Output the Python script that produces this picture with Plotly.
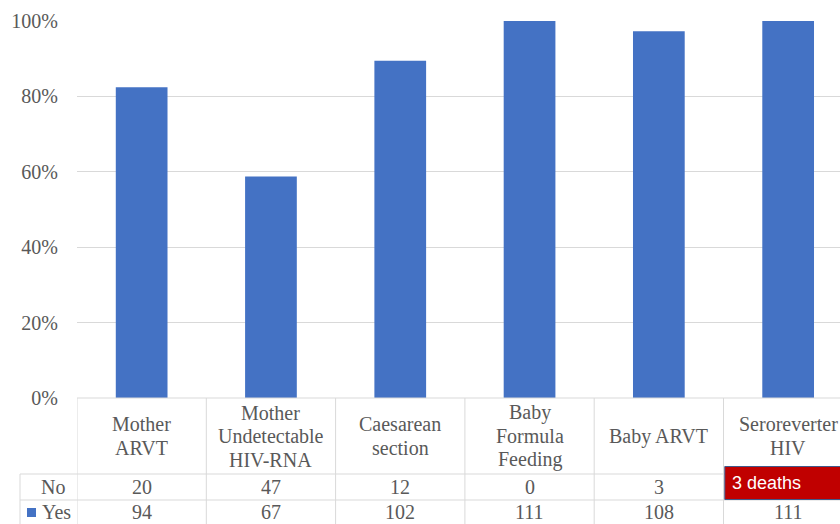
import plotly.graph_objects as go

# Outcome categories and counts per category
categories = ["Mother<br>ARVT", "Mother<br>Undetectable<br>HIV-RNA", "Caesarean<br>section",
              "Baby<br>Formula<br>Feeding", "Baby ARVT", "Seroreverter<br>HIV"]
yes_counts = [94, 67, 102, 111, 108, 111]
no_counts = [20, 47, 12, 0, 3, 0]
no_notes = [None, None, None, None, None, "3 deaths"]
y_ticks = [0, 20, 40, 60, 80, 100]

pct_yes = [100.0 * y / (y + n) for y, n in zip(yes_counts, no_counts)]

W, H = 840, 524
ML, MT, MB = 77, 21, 126
plot_w = W - ML
plot_h = H - MT - MB

TEXT = "#595959"
GRID = "#d9d9d9"
BLUE = "#4472C4"
SERIF = "Liberation Serif, Times New Roman, serif"
FS = 20


def px_to_py(py):
    """Pixel row -> paper y."""
    return (H - MB - py) / plot_h


def px_to_px(px):
    """Pixel column -> paper x."""
    return (px - ML) / plot_w


xpos = list(range(len(categories)))

fig = go.Figure(
    go.Bar(x=xpos, y=pct_yes, width=0.4, marker=dict(color=BLUE, line=dict(width=0)),
           hoverinfo="skip", showlegend=False)
)

shapes = []
annotations = []

# data table grid
y_hdr_top = px_to_py(398)
y_row1 = px_to_py(474)
y_row2 = px_to_py(500)
y_bot = px_to_py(560)

shapes.append(dict(type="line", xref="paper", yref="paper", x0=0, x1=1.05,
                   y0=y_hdr_top, y1=y_hdr_top, line=dict(color=GRID, width=1)))
for yy in (y_row1, y_row2):
    shapes.append(dict(type="line", xref="paper", yref="paper", x0=px_to_px(20), x1=1.05,
                       y0=yy, y1=yy, line=dict(color=GRID, width=1)))
shapes.append(dict(type="line", xref="paper", yref="paper", x0=px_to_px(20), x1=px_to_px(20),
                   y0=y_row1, y1=y_bot, line=dict(color=GRID, width=1)))
for i in range(len(categories)):
    shapes.append(dict(type="line", xref="x", yref="paper", x0=i - 0.5, x1=i - 0.5,
                       y0=y_hdr_top, y1=y_bot, line=dict(color=GRID, width=1)))

# header row: category names, one annotation per line for tight line spacing
HDR_MID, LINE_H = 436, 23.5
for i, c in enumerate(categories):
    lines = c.split("<br>")
    n = len(lines)
    for k, ln in enumerate(lines):
        py = HDR_MID + (k - (n - 1) / 2) * LINE_H
        annotations.append(dict(x=i, y=px_to_py(py), xref="x", yref="paper", text=ln,
                                showarrow=False, xanchor="center", yanchor="middle",
                                font=dict(family=SERIF, size=FS, color=TEXT)))

# value rows
y_no = px_to_py(487)
y_yes = px_to_py(512)
for i in xpos:
    if no_notes[i] is None:
        annotations.append(dict(x=i, y=y_no, xref="x", yref="paper", text=str(no_counts[i]),
                                showarrow=False, xanchor="center", yanchor="middle",
                                font=dict(family=SERIF, size=FS, color=TEXT)))
    annotations.append(dict(x=i, y=y_yes, xref="x", yref="paper", text=str(yes_counts[i]),
                            showarrow=False, xanchor="center", yanchor="middle",
                            font=dict(family=SERIF, size=FS, color=TEXT)))

# row labels with legend key
annotations.append(dict(x=px_to_px(39), y=y_no, xref="paper", yref="paper", text="No",
                        showarrow=False, xanchor="left", yanchor="middle",
                        font=dict(family=SERIF, size=FS, color=TEXT)))
annotations.append(dict(x=px_to_px(40), y=y_yes, xref="paper", yref="paper", text="Yes",
                        showarrow=False, xanchor="left", yanchor="middle",
                        font=dict(family=SERIF, size=FS, color=TEXT)))
shapes.append(dict(type="rect", xref="paper", yref="paper", x0=px_to_px(27), x1=px_to_px(36),
                   y0=px_to_py(517), y1=px_to_py(508), fillcolor=BLUE, line=dict(width=0)))

# note box replacing the "No" value
for i, note in enumerate(no_notes):
    if note:
        shapes.append(dict(type="rect", xref="x", yref="paper", x0=i - 0.49, x1=i + 0.6,
                           y0=px_to_py(499.5), y1=px_to_py(466.5), fillcolor="#C00000",
                           line=dict(color="#41598A", width=1), layer="above"))
        annotations.append(dict(x=px_to_px(730), y=px_to_py(483), xref="paper", yref="paper",
                                text=note, showarrow=False, xanchor="left", yanchor="middle",
                                font=dict(family="Liberation Sans, Arial, sans-serif", size=18,
                                          color="white")))

fig.update_layout(
    width=W, height=H,
    margin=dict(l=ML, r=0, t=MT, b=MB, pad=0),
    paper_bgcolor="white", plot_bgcolor="white",
    shapes=shapes, annotations=annotations,
    xaxis=dict(range=[-0.5, -0.5 + plot_w / 129.3], showticklabels=False, showgrid=False,
               zeroline=False, showline=False, ticks="", fixedrange=True),
    yaxis=dict(range=[0, 100], tickvals=y_ticks, ticktext=[f"{v}%" for v in y_ticks],
               showgrid=True, gridcolor=GRID, gridwidth=1, zeroline=False, showline=False,
               ticks="outside", ticklen=14, tickcolor="rgba(0,0,0,0)",
               tickfont=dict(family=SERIF, size=FS, color=TEXT), fixedrange=True),
    bargap=0.6,
)

fig.write_html("out.html")
